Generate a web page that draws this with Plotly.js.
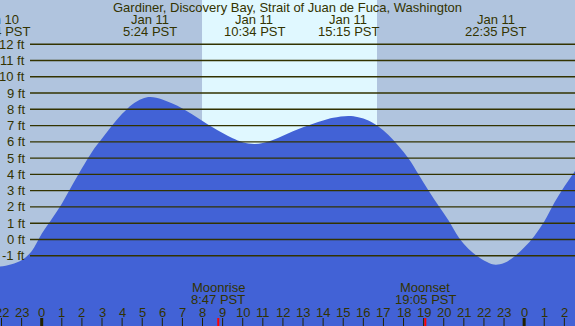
<!DOCTYPE html>
<html>
<head>
<meta charset="utf-8">
<script src="https://cdn.plot.ly/plotly-3.0.1.min.js"></script>
<style>html,body{margin:0;padding:0;background:#b0c4de;}#chart{width:575px;height:326px;}</style>
</head>
<body>
<div id="chart"></div>
<script>
// Tide heights (ft); hours relative to Jan 11 00:00 PST
const tideHours = [-2.5, -2.1, -1.5, -1.0, -0.5, 0.0, 0.5, 1.0, 1.5, 2.0, 2.5, 3.0, 3.5, 4.0, 4.5, 5.0, 5.4, 6.0, 6.5, 7.0, 7.5, 8.0, 8.5, 9.0, 9.5, 10.0, 10.567, 11.0, 11.5, 12.0, 12.5, 13.0, 13.5, 14.0, 14.5, 15.25, 15.75, 16.25, 16.75, 17.25, 17.75, 18.25, 18.75, 19.25, 19.75, 20.25, 20.75, 21.25, 21.75, 22.25, 22.583, 23.0, 23.5, 24.0, 24.5, 25.0, 25.5, 26.0, 26.5, 27.0];
const tideFeet  = [-1.62, -1.67, -1.52, -1.28, -0.72, 0.35, 1.25, 2.2, 3.3, 4.37, 5.38, 6.2, 7.0, 7.72, 8.3, 8.65, 8.75, 8.6, 8.35, 8.05, 7.68, 7.28, 6.9, 6.55, 6.22, 5.98, 5.87, 5.93, 6.12, 6.38, 6.65, 6.9, 7.12, 7.32, 7.48, 7.59, 7.52, 7.32, 6.95, 6.42, 5.75, 4.98, 4.0, 3.0, 2.05, 1.15, 0.12, -0.6, -1.1, -1.45, -1.55, -1.45, -1.06, -0.5, 0.2, 1.1, 2.25, 3.25, 4.15, 5.0];

// Tide extremes labels
const extremeHours = [-2.1, 5.4, 10.567, 15.25, 22.583];
const extremeDates = ["Jan 10", "Jan 11", "Jan 11", "Jan 11", "Jan 11"];
const extremeTimes = ["21:54 PST", "5:24 PST", "10:34 PST", "15:15 PST", "22:35 PST"];

// Moon events
const moonHours = [8.783, 19.083];
const moonNames = ["Moonrise", "Moonset"];
const moonTimes = ["8:47 PST", "19:05 PST"];

// Daylight
const sunriseHour = 7.975;
const sunsetHour = 16.68;

// Axis ticks
const hourTicks = [-2,-1,0,1,2,3,4,5,6,7,8,9,10,11,12,13,14,15,16,17,18,19,20,21,22,23,24,25,26];
const hourLabels = ["22","23","0","1","2","3","4","5","6","7","8","9","10","11","12","13","14","15","16","17","18","19","20","21","22","23","0","1","2"];
const midnightHours = [0, 24];
const footLevels = [-1,0,1,2,3,4,5,6,7,8,9,10,11,12];
const footLabels = ["-1 ft","0 ft","1 ft","2 ft","3 ft","4 ft","5 ft","6 ft","7 ft","8 ft","9 ft","10 ft","11 ft","12 ft"];

const W = 575, H = 326;
const xRange = [-2.075, 26.53];
const yRange = [-5.32, 14.72];
const textColor = "#333300";
const fontFam = "Liberation Sans, Arial, sans-serif";
const fs = 13;
// map an hour onto the x axis as a paper fraction (so labels beyond the edge still draw)
const hx = h => (h - xRange[0]) / (xRange[1] - xRange[0]);

const traces = [
  {x: [xRange[0]-1, xRange[1]+1], y: [yRange[0], yRange[0]], mode: "lines", line: {width: 0, color: "rgba(0,0,0,0)"}, hoverinfo: "skip", showlegend: false},
  {x: tideHours, y: tideFeet, mode: "lines", line: {width: 0, shape: "spline", smoothing: 1, color: "#4262d6"}, fill: "tonexty", fillcolor: "#4262d6", hoverinfo: "skip", showlegend: false}
];

const shapes = [];
shapes.push({type: "rect", xref: "x", yref: "paper", x0: sunriseHour, x1: sunsetHour, y0: 0, y1: 1, fillcolor: "#e0f8ff", line: {width: 0}, layer: "below"});
footLevels.forEach(v => shapes.push({type: "line", xref: "paper", yref: "y", x0: 30/W, x1: 1, y0: v, y1: v, line: {color: textColor, width: 1.4}, layer: "above"}));
hourTicks.forEach(h => shapes.push({type: "line", xref: "x", yref: "paper", x0: h, x1: h, y0: 0, y1: 8/H, line: {color: "#222200", width: midnightHours.includes(h) ? 3 : 1}, layer: "above"}));
moonHours.forEach(h => shapes.push({type: "line", xref: "x", yref: "paper", x0: h, x1: h, y0: 0, y1: 8/H, line: {color: "#ff0000", width: 2}, layer: "above"}));

const annotations = [];
const font = {family: fontFam, size: fs, color: textColor};
footLevels.forEach((v, i) => annotations.push({xref: "paper", yref: "y", x: 27/W, y: v, text: footLabels[i], showarrow: false, xanchor: "right", yanchor: "middle", font}));
hourTicks.forEach((h, i) => annotations.push({xref: "paper", yref: "paper", x: hx(h), y: 1 - 312/H, text: hourLabels[i], showarrow: false, xanchor: "center", yanchor: "middle", font}));
extremeHours.forEach((h, i) => {
  annotations.push({xref: "paper", yref: "paper", x: hx(h), y: 1 - 19/H, text: extremeDates[i], showarrow: false, xanchor: "center", yanchor: "middle", font});
  annotations.push({xref: "paper", yref: "paper", x: hx(h), y: 1 - 31.5/H, text: extremeTimes[i], showarrow: false, xanchor: "center", yanchor: "middle", font});
});
moonHours.forEach((h, i) => {
  annotations.push({xref: "x", yref: "paper", x: h, y: 1 - 287.5/H, text: moonNames[i], showarrow: false, xanchor: "center", yanchor: "middle", font});
  annotations.push({xref: "x", yref: "paper", x: h, y: 1 - 299.5/H, text: moonTimes[i], showarrow: false, xanchor: "center", yanchor: "middle", font});
});

const layout = {
  width: W, height: H,
  margin: {l: 0, r: 0, t: 0, b: 0, pad: 0},
  paper_bgcolor: "#b0c4de", plot_bgcolor: "#b0c4de",
  title: {text: "Gardiner, Discovery Bay, Strait of Juan de Fuca, Washington", x: 0.5, xanchor: "center", y: 1 - 7/H, yanchor: "middle", yref: "paper", font},
  xaxis: {range: xRange, visible: false, fixedrange: true},
  yaxis: {range: yRange, visible: false, fixedrange: true},
  shapes, annotations, showlegend: false
};

Plotly.newPlot("chart", traces, layout, {staticPlot: true, displayModeBar: false});
</script>
</body>
</html>
